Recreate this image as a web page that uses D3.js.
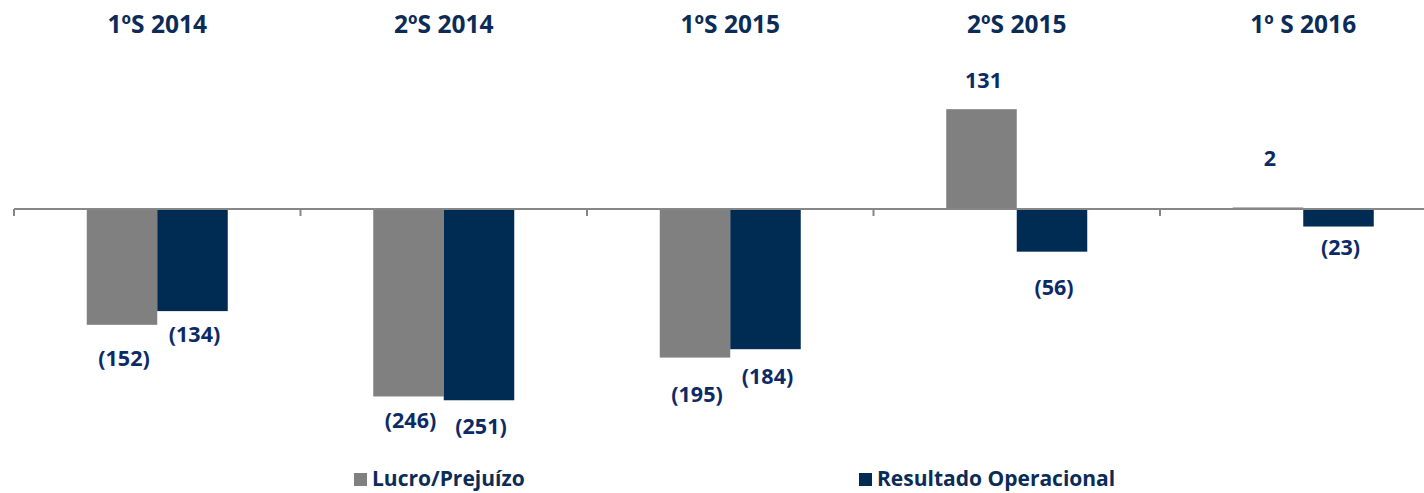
<!DOCTYPE html>
<html>
<head>
<meta charset="utf-8">
<script src="https://cdn.jsdelivr.net/npm/d3@7"></script>
<style>
  body { margin: 0; background: #fff; }
  svg text { font-family: "Open Sans", sans-serif; font-weight: bold; }
</style>
</head>
<body>
<svg id="chart" width="1424" height="493"></svg>
<script>
// data
var periods = ["1ºS 2014", "2ºS 2014", "1ºS 2015", "2ºS 2015", "1º S 2016"];
var seriesNames = ["Lucro/Prejuízo", "Resultado Operacional"];
var lucro = [-152, -246, -195, 131, 2];
var resultado = [-134, -251, -184, -56, -23];

// label nudges (px from bar end to text baseline), hand placed like the original
var lucroNudge = [41, 32, 44, 21, 41];
var resultadoNudge = [31, 34, 35, 43, 28];

var colors = { "Lucro/Prejuízo": "#808080", "Resultado Operacional": "#002b52" };
var labelColor = "#0c2b66";
var titleColor = "#0b2c57";

var svg = d3.select("#chart");

var x0 = d3.scaleBand().domain(periods).range([14, 1446.5]);
var bw = x0.bandwidth();
var barW = 70.5;
var x1 = d3.scaleBand().domain(seriesNames).range([bw / 2 - barW, bw / 2 + barW]);

// 0 sits at y=209
var y = d3.scaleLinear().domain([-300, 250]).range([209 + 300 * 0.762, 209 - 250 * 0.762]);

var rows = [];
periods.forEach(function(p, i) {
  rows.push({ p: p, s: seriesNames[0], v: lucro[i], nudge: lucroNudge[i] });
  rows.push({ p: p, s: seriesNames[1], v: resultado[i], nudge: resultadoNudge[i] });
});

// bars
svg.selectAll("rect.bar")
   .data(rows)
   .enter()
   .append("rect")
   .attr("class", "bar")
   .attr("x", function(d) { return x0(d.p) + x1(d.s); })
   .attr("y", function(d) { return Math.min(y(d.v), y(0)); })
   .attr("width", x1.bandwidth())
   .attr("height", function(d) { return Math.abs(y(d.v) - y(0)); })
   .attr("fill", function(d) { return colors[d.s]; });

// zero axis + ticks at band edges
svg.append("line")
   .attr("x1", x0.range()[0]).attr("x2", x0.range()[1])
   .attr("y1", y(0)).attr("y2", y(0))
   .attr("stroke", "#878787").attr("stroke-width", 2);

var edges = periods.map(function(p) { return x0(p); }).concat([x0.range()[1]]);
svg.selectAll("line.tick")
   .data(edges)
   .enter()
   .append("line")
   .attr("class", "tick")
   .attr("x1", function(d) { return d; }).attr("x2", function(d) { return d; })
   .attr("y1", y(0)).attr("y2", y(0) + 7)
   .attr("stroke", "#878787").attr("stroke-width", 2);

// value labels
var fmt = function(v) { return v < 0 ? "(" + Math.abs(v) + ")" : "" + v; };
svg.selectAll("text.val")
   .data(rows)
   .enter()
   .append("text")
   .attr("class", "val")
   .attr("x", function(d) { return x0(d.p) + x1(d.s) + x1.bandwidth() / 2 + 2; })
   .attr("y", function(d) { return d.v < 0 ? y(d.v) + d.nudge : y(d.v) - d.nudge; })
   .attr("text-anchor", "middle")
   .attr("font-size", 21.5)
   .attr("fill", labelColor)
   .text(function(d) { return fmt(d.v); });

// period titles on top
svg.selectAll("text.title")
   .data(periods)
   .enter()
   .append("text")
   .attr("class", "title")
   .attr("x", function(d) { return x0(d) + bw / 2; })
   .attr("y", 33)
   .attr("text-anchor", "middle")
   .attr("font-size", 24.5)
   .attr("fill", titleColor)
   .text(function(d) { return d; });

// legend
var legendX = [354, 859];
var lg = svg.selectAll("g.legend")
   .data(seriesNames)
   .enter()
   .append("g")
   .attr("class", "legend")
   .attr("transform", function(d, i) { return "translate(" + legendX[i] + ",473)"; });

lg.append("rect")
  .attr("width", 13).attr("height", 13)
  .attr("fill", function(d) { return colors[d]; });

lg.append("text")
  .attr("x", 18).attr("y", 13)
  .attr("font-size", 21)
  .attr("fill", titleColor)
  .text(function(d) { return d; });
</script>
</body>
</html>
